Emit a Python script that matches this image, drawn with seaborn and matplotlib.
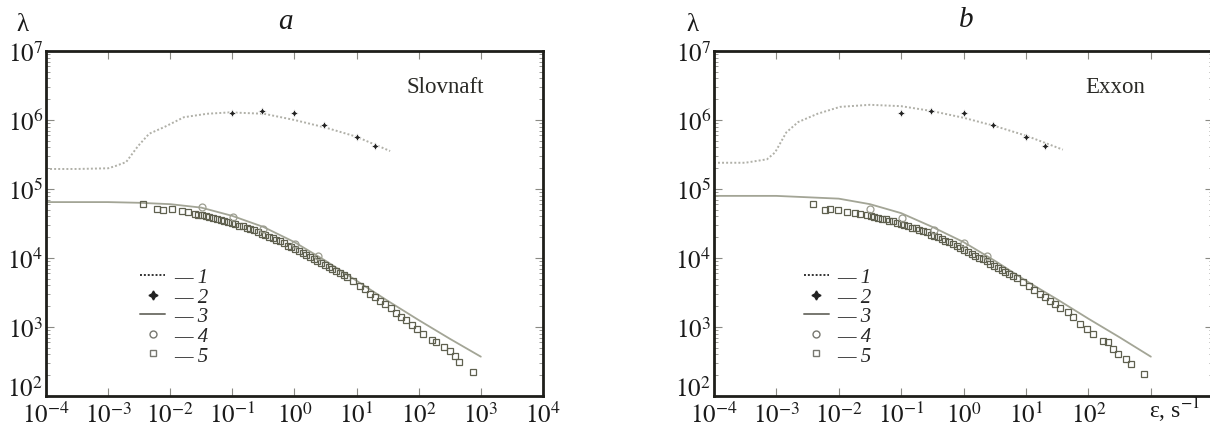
import numpy as np
import pandas as pd
import matplotlib
matplotlib.use("Agg")
import matplotlib.pyplot as plt
import seaborn as sns
from matplotlib.lines import Line2D

# ---------------- data (log10 units) ----------------
# curve 1 (dotted line)
c1a_logx = [-4.0, -3.5, -3.0, -2.89, -2.71, -2.52, -2.34, -2.09, -1.78, -1.41, -1.04, -0.49, 0.0, 0.5, 0.99, 1.54]
c1a_logy = [5.29, 5.29, 5.30, 5.33, 5.39, 5.62, 5.80, 5.90, 6.04, 6.09, 6.11, 6.09, 6.00, 5.89, 5.76, 5.55]
c1b_logx = [-4.0, -3.5, -3.15, -3.02, -2.84, -2.65, -2.34, -1.98, -1.50, -1.00, -0.51, 0.01, 0.51, 1.01, 1.59]
c1b_logy = [5.38, 5.38, 5.43, 5.53, 5.82, 5.97, 6.09, 6.19, 6.22, 6.20, 6.13, 6.03, 5.91, 5.77, 5.57]

# curve 2 (stars)
c2_x = [0.1, 0.3, 1.0, 3.0, 10.0, 20.0]
c2a_y = [1.26e6, 1.35e6, 1.25e6, 8.5e5, 5.6e5, 4.2e5]
c2b_y = [1.26e6, 1.35e6, 1.26e6, 8.5e5, 5.6e5, 4.2e5]

# curve 3 (solid line)
c3_logx = [-4.0, -3.0, -2.5, -2.0, -1.5, -1.0, -0.5, 0.0, 0.5, 1.0, 1.5, 2.0, 2.5, 3.0]
c3a_logy = [4.81, 4.81, 4.80, 4.78, 4.73, 4.61, 4.45, 4.23, 3.96, 3.67, 3.38, 3.10, 2.83, 2.57]
c3b_logy = [4.90, 4.90, 4.88, 4.86, 4.78, 4.65, 4.45, 4.23, 3.96, 3.67, 3.40, 3.12, 2.85, 2.57]

# curve 4 (circles)
c4a_logx = [-1.49, -0.99, -0.51, 0.01, 0.38]
c4a_logy = [4.74, 4.59, 4.42, 4.20, 4.03]
c4b_logx = [-1.50, -0.98, -0.48, 0.01, 0.38]
c4b_logy = [4.71, 4.58, 4.41, 4.22, 4.03]

# curve 5 (squares)
c5a_logx = [-2.44, -2.21, -2.12, -1.97, -1.81, -1.71, -1.60,
            -1.55, -1.49, -1.43, -1.37, -1.31, -1.25, -1.19, -1.13, -1.07, -1.01,
            -0.95, -0.89, -0.83, -0.77, -0.71, -0.65, -0.59, -0.53, -0.47, -0.41,
            -0.35, -0.29, -0.23, -0.17, -0.11, -0.05, 0.01, 0.07, 0.13, 0.19,
            0.25, 0.31, 0.37, 0.43, 0.49, 0.55, 0.61, 0.67, 0.73, 0.79, 0.85,
            0.95, 1.05, 1.13, 1.22, 1.30, 1.38, 1.46, 1.55, 1.63, 1.72, 1.80, 1.89,
            1.97, 2.07, 2.22, 2.28, 2.41, 2.51, 2.59, 2.65, 2.88]
c5a_logy = [4.78, 4.71, 4.70, 4.71, 4.68, 4.67, 4.64,
            4.63, 4.62, 4.61, 4.59, 4.58, 4.57, 4.55, 4.54, 4.52, 4.50,
            4.49, 4.47, 4.46, 4.44, 4.42, 4.40, 4.38, 4.35, 4.33, 4.31,
            4.29, 4.26, 4.24, 4.21, 4.18, 4.16, 4.13, 4.10, 4.07, 4.04,
            4.01, 3.99, 3.96, 3.93, 3.90, 3.87, 3.84, 3.81, 3.78, 3.75, 3.72,
            3.66, 3.60, 3.55, 3.48, 3.43, 3.38, 3.33, 3.27, 3.21, 3.15, 3.10, 3.03,
            2.97, 2.90, 2.81, 2.78, 2.71, 2.65, 2.58, 2.49, 2.35]
c5b_logx = [-2.41, -2.22, -2.14, -2.01, -1.87, -1.74, -1.66,
            -1.55, -1.49, -1.43, -1.37, -1.31, -1.25, -1.19, -1.13, -1.07, -1.01,
            -0.95, -0.89, -0.83, -0.77, -0.71, -0.65, -0.59, -0.53, -0.47, -0.41,
            -0.35, -0.29, -0.23, -0.17, -0.11, -0.05, 0.01, 0.07, 0.13, 0.19,
            0.25, 0.31, 0.37, 0.43, 0.49, 0.55, 0.61, 0.67, 0.73, 0.79, 0.85,
            0.95, 1.05, 1.13, 1.22, 1.30, 1.38, 1.46, 1.55, 1.67, 1.76, 1.87,
            1.97, 2.07, 2.23, 2.31, 2.40, 2.48, 2.60, 2.68, 2.89]
c5b_logy = [4.78, 4.70, 4.71, 4.70, 4.67, 4.65, 4.64,
            4.62, 4.61, 4.60, 4.58, 4.57, 4.56, 4.54, 4.53, 4.51, 4.49,
            4.48, 4.46, 4.44, 4.43, 4.41, 4.39, 4.37, 4.34, 4.32, 4.30,
            4.28, 4.25, 4.23, 4.20, 4.17, 4.15, 4.12, 4.09, 4.06, 4.03,
            4.00, 3.98, 3.95, 3.92, 3.89, 3.86, 3.83, 3.80, 3.77, 3.74, 3.71,
            3.65, 3.59, 3.54, 3.48, 3.43, 3.38, 3.33, 3.27, 3.22, 3.14, 3.04,
            2.97, 2.90, 2.80, 2.78, 2.68, 2.61, 2.54, 2.46, 2.32]

xticks = [1e-4, 1e-3, 1e-2, 1e-1, 1e0, 1e1, 1e2, 1e3, 1e4]
xticklabels_a = [r"$10^{-4}$", r"$10^{-3}$", r"$10^{-2}$", r"$10^{-1}$", r"$10^{0}$",
                 r"$10^{1}$", r"$10^{2}$", r"$10^{3}$", r"$10^{4}$"]
xticklabels_b = [r"$10^{-4}$", r"$10^{-3}$", r"$10^{-2}$", r"$10^{-1}$", r"$10^{0}$",
                 r"$10^{1}$", r"$10^{2}$", "", ""]
yticks = [1e2, 1e3, 1e4, 1e5, 1e6, 1e7]
yticklabels = [r"$10^{2}$", r"$10^{3}$", r"$10^{4}$", r"$10^{5}$", r"$10^{6}$", r"$10^{7}$"]
legend_labels = ["— 1", "— 2", "— 3", "— 4", "— 5"]
panel_names = ["Slovnaft", "Exxon"]
panel_letters = ["a", "b"]

# ---------------- style ----------------
sns.set_style("ticks")
plt.rcParams["font.family"] = ["Liberation Serif", "DejaVu Serif"]
plt.rcParams["mathtext.fontset"] = "stix"

LINE_C = "#a3a596"
DOT_C = "#b0b0a8"
SQ_C = "#5f604f"
CI_C = "#9c9d90"
STAR_C = "#222222"
SPINE_C = "#1e1e1a"
TICK_C = "#8a8a84"

fig = plt.figure(figsize=(12.1, 4.31), dpi=100)
ax_a = fig.add_axes([0.038, 0.0789, 0.4107, 0.8005])
ax_b = fig.add_axes([0.590, 0.0789, 0.4127, 0.8005])


def tolin(v):
    return np.power(10.0, np.asarray(v, dtype=float))


def draw(ax, c1x, c1y, c2y, c3y, c4x, c4y, c5x, c5y):
    ax.set_xscale("log")
    ax.set_yscale("log")
    d1 = pd.DataFrame({"x": tolin(c1x), "y": tolin(c1y)})
    sns.lineplot(data=d1, x="x", y="y", ax=ax, color=DOT_C, lw=1.4,
                 linestyle=(0, (1, 1.1)), estimator=None, sort=False)
    d3 = pd.DataFrame({"x": tolin(c3_logx), "y": tolin(c3y)})
    sns.lineplot(data=d3, x="x", y="y", ax=ax, color=LINE_C, lw=1.3,
                 estimator=None, sort=False)
    d5 = pd.DataFrame({"x": tolin(c5x), "y": tolin(c5y)})
    sns.lineplot(data=d5, x="x", y="y", ax=ax, marker="s", linestyle="",
                 markersize=4.8, markerfacecolor="none", markeredgecolor=SQ_C,
                 markeredgewidth=0.9, estimator=None, sort=False)
    d4 = pd.DataFrame({"x": tolin(c4x), "y": tolin(c4y)})
    sns.lineplot(data=d4, x="x", y="y", ax=ax, marker="o", linestyle="",
                 markersize=5.0, markerfacecolor="none", markeredgecolor=CI_C,
                 markeredgewidth=0.9, estimator=None, sort=False)
    d2 = pd.DataFrame({"x": c2_x, "y": c2y})
    sns.lineplot(data=d2, x="x", y="y", ax=ax, marker=(4, 1, 0), linestyle="",
                 markersize=5.8, color=STAR_C, markeredgewidth=0.6,
                 estimator=None, sort=False)


draw(ax_a, c1a_logx, c1a_logy, c2a_y, c3a_logy, c4a_logx, c4a_logy, c5a_logx, c5a_logy)
draw(ax_b, c1b_logx, c1b_logy, c2b_y, c3b_logy, c4b_logx, c4b_logy, c5b_logx, c5b_logy)

for ax, xl, name in [(ax_a, xticklabels_a, panel_names[0]), (ax_b, xticklabels_b, panel_names[1])]:
    ax.set_xlim(1e-4, 1e4)
    ax.set_ylim(1e2, 1e7)
    ax.set_xticks(xticks)
    ax.set_xticklabels(xl)
    ax.set_yticks(yticks)
    ax.set_yticklabels(yticklabels)
    ax.get_yticklabels()[0].set_va("baseline")
    ax.set_xlabel("")
    ax.set_ylabel("")
    for s in ax.spines.values():
        s.set_linewidth(2.0)
        s.set_color(SPINE_C)
        s.set_visible(True)
    ax.tick_params(which="major", direction="in", length=6, width=0.8, color=TICK_C,
                   top=True, right=True, labelsize=18, pad=2, labelcolor="#1a1a1a")
    ax.tick_params(which="minor", direction="in", length=3, width=0.6, color=TICK_C,
                   top=True, right=True)
    ax.tick_params(axis="x", which="major", pad=4)
    ax.text(0.803, 0.896, name, transform=ax.transAxes, ha="center", va="center",
            fontsize=16.5, color="#2a2a26")
    handles = [
        Line2D([], [], color="#333333", lw=1.4, linestyle=(0, (1, 1))),
        Line2D([], [], color=STAR_C, marker=(4, 1, 0), linestyle="", markersize=6.5),
        Line2D([], [], color="#777770", lw=1.4),
        Line2D([], [], color="#777770", marker="o", markerfacecolor="none", linestyle="", markersize=5),
        Line2D([], [], color="#777770", marker="s", markerfacecolor="none", linestyle="", markersize=5),
    ]
    anchor_x = 0.190 if ax is ax_a else 0.180
    ax.legend(handles, legend_labels, loc="upper left", bbox_to_anchor=(anchor_x, 0.372),
              frameon=False, borderpad=0, borderaxespad=0, handlelength=1.2,
              handletextpad=0.4, labelspacing=0.0,
              prop={"family": "Liberation Serif", "style": "italic", "size": 15})

# epsilon axis label in panel b, at the position of 10^3
ax_b.text(0.95e3, -0.063, r"ε, s$^{-1}$", transform=ax_b.get_xaxis_transform(),
          ha="left", va="baseline", fontsize=17, color="#1a1a1a")

# lambda labels and panel letters
fig.text(22 / 1210, 1 - 25 / 431, "λ", ha="center", va="center", fontsize=18, color="#1a1a1a")
fig.text(692 / 1210, 1 - 25 / 431, "λ", ha="center", va="center", fontsize=18, color="#1a1a1a")
fig.text(285 / 1210, 1 - 22 / 431, panel_letters[0], ha="center", va="center",
         fontsize=21, style="italic", color="#1a1a1a")
fig.text(966 / 1210, 1 - 20 / 431, panel_letters[1], ha="center", va="center",
         fontsize=21, style="italic", color="#1a1a1a")

fig.savefig("out.png", dpi=100)
